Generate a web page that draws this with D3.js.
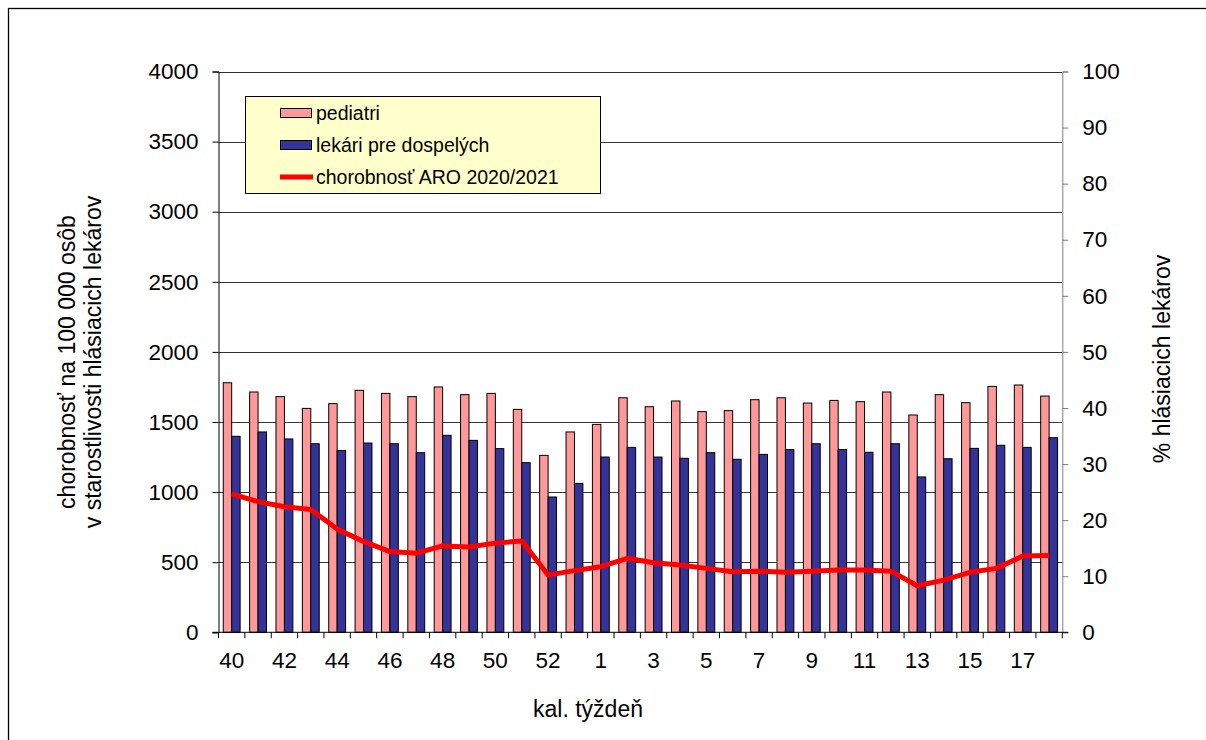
<!DOCTYPE html>
<html><head><meta charset="utf-8">
<script src="https://cdn.jsdelivr.net/npm/d3@7"></script>
<style>body{margin:0;background:#fff}svg{display:block;font-family:"Liberation Sans",Arial,sans-serif}</style>
</head><body><svg id="c" width="1206" height="740"></svg>
<script>
const weeks = ["40","41","42","43","44","45","46","47","48","49","50","51","52","53","1","2","3","4","5","6","7","8","9","10","11","12","13","14","15","16","17","18"];
const pediatri = [1780,1714,1681,1597,1631,1726,1704,1681,1750,1695,1704,1590,1262,1429,1483,1673,1609,1650,1574,1581,1659,1673,1635,1654,1645,1714,1550,1695,1638,1754,1764,1685];
const dospeli = [1398,1429,1379,1345,1296,1350,1345,1281,1405,1369,1310,1210,965,1062,1250,1319,1250,1241,1281,1234,1269,1303,1345,1303,1284,1345,1108,1238,1312,1334,1319,1388];
const aro = [24.7,23.3,22.4,21.9,18.4,16.2,14.4,14.1,15.4,15.2,15.9,16.3,10.2,11.0,11.7,13.2,12.4,12.0,11.4,10.8,10.9,10.7,10.9,11.1,11.1,10.9,8.3,9.3,10.7,11.4,13.6,13.7];
const leftTicks = [0,500,1000,1500,2000,2500,3000,3500,4000];
const rightTicks = [0,10,20,30,40,50,60,70,80,90,100];
const seriesNames = ["pediatri","lekári pre dospelých","chorobnosť ARO 2020/2021"];

const svg = d3.select("#c");
const FF = "Liberation Sans, Arial, sans-serif";
const L = 218.5, R = 1062.3, T = 71.5, B = 632.3;
const x = d3.scaleBand().domain(weeks).range([L, R]).paddingInner(0.36).paddingOuter(0.18);
const xc = d3.scaleBand().domain(weeks).range([L, R]);
const y = d3.scaleLinear().domain([0,4000]).range([B, T]);
const y2 = d3.scaleLinear().domain([0,100]).range([B, T]);
const sub = d3.scaleBand().domain([0,1]).range([0, x.bandwidth()]);

// outer border
svg.append("rect").attr("x",8.5).attr("y",8.5).attr("width",1400).attr("height",1000)
  .attr("fill","none").attr("stroke","#000").attr("stroke-width",1.3);

// gridlines
svg.append("g").selectAll("line").data(leftTicks.filter(d=>d>0)).join("line")
  .attr("x1",L).attr("x2",R).attr("y1",d=>Math.round(y(d))+0.5).attr("y2",d=>Math.round(y(d))+0.5)
  .attr("stroke","#333").attr("stroke-width",1);

// bars
const g = svg.append("g");
weeks.forEach((w,i)=>{
  g.append("rect").attr("x",x(w)).attr("y",y(pediatri[i])).attr("width",sub.bandwidth()).attr("height",B-y(pediatri[i]))
    .attr("fill","#FF9999").attr("stroke","#000").attr("stroke-width",1);
  g.append("rect").attr("x",x(w)+sub.bandwidth()).attr("y",y(dospeli[i])).attr("width",sub.bandwidth()).attr("height",B-y(dospeli[i]))
    .attr("fill","#333399").attr("stroke","#000").attr("stroke-width",1);
});

// line
svg.append("path").datum(aro)
  .attr("d", d3.line().x((d,i)=>xc(weeks[i])+xc.bandwidth()/2).y(d=>y2(d)))
  .attr("fill","none").attr("stroke","#FF0000").attr("stroke-width",5).attr("stroke-linejoin","round");

// left axis
const ax = d3.axisLeft(y).tickValues(leftTicks).tickFormat(d3.format("d")).tickSize(6).tickPadding(14);
const gl = svg.append("g").attr("transform",`translate(${L},0)`).call(ax);
gl.select(".domain").attr("stroke","#000");
gl.selectAll(".tick text").attr("font-size",22.5).attr("fill","#000").attr("font-family",FF);

// right axis
const ar = d3.axisRight(y2).tickValues(rightTicks).tickFormat(d3.format("d")).tickSize(6).tickPadding(14);
const gr = svg.append("g").attr("transform",`translate(${R},0)`).call(ar);
gr.select(".domain").attr("stroke","#808080");
gr.selectAll(".tick line").attr("stroke","#808080");
gr.selectAll(".tick text").attr("font-size",22.5).attr("fill","#000").attr("font-family",FF);

// bottom axis
const ab = d3.axisBottom(xc).tickSize(0).tickPadding(0).tickFormat((d,i)=> i%2===0 ? d : "");
const gb = svg.append("g").attr("transform",`translate(0,${B})`).call(ab);
gb.select(".domain").remove();
gb.selectAll(".tick text").attr("font-size",22.5).attr("fill","#000").attr("dy",null).attr("y",36)
  .attr("font-family",FF);
svg.append("line").attr("x1",L-6).attr("x2",R+6).attr("y1",B).attr("y2",B).attr("stroke","#000");
svg.append("g").selectAll("line").data(d3.range(weeks.length+1)).join("line")
  .attr("x1",i=>L+i*xc.step()).attr("x2",i=>L+i*xc.step()).attr("y1",B).attr("y2",B+6).attr("stroke","#000");

// titles
svg.append("text").attr("transform","translate(75,362) rotate(-90)").attr("text-anchor","middle")
  .attr("font-size",23).text("chorobnosť na 100 000 osôb");
svg.append("text").attr("transform","translate(101,362) rotate(-90)").attr("text-anchor","middle")
  .attr("font-size",23).text("v starostlivosti hlásiacich lekárov");
svg.append("text").attr("transform","translate(1170,359) rotate(-90)").attr("text-anchor","middle")
  .attr("font-size",23).text("% hlásiacich lekárov");
svg.append("text").attr("x",588).attr("y",717).attr("text-anchor","middle")
  .attr("font-size",23).text("kal. týždeň");

// legend
const lg = svg.append("g");
lg.append("rect").attr("x",245.5).attr("y",96.5).attr("width",355).attr("height",97)
  .attr("fill","#FFFFCC").attr("stroke","#000").attr("stroke-width",1);
const rowsY = [113,145,177];
lg.append("rect").attr("x",280.5).attr("y",rowsY[0]-4.5).attr("width",31).attr("height",9).attr("fill","#FF9999").attr("stroke","#000");
lg.append("rect").attr("x",280.5).attr("y",rowsY[1]-4.5).attr("width",31).attr("height",9).attr("fill","#333399").attr("stroke","#000");
lg.append("line").attr("x1",280).attr("x2",313).attr("y1",rowsY[2]).attr("y2",rowsY[2]).attr("stroke","#FF0000").attr("stroke-width",5);
lg.selectAll("text.l").data(seriesNames).join("text").attr("class","l")
  .attr("x",316).attr("y",(d,i)=>rowsY[i]).attr("dy","0.35em").attr("font-size",19.5).text(d=>d);
</script></body></html>
